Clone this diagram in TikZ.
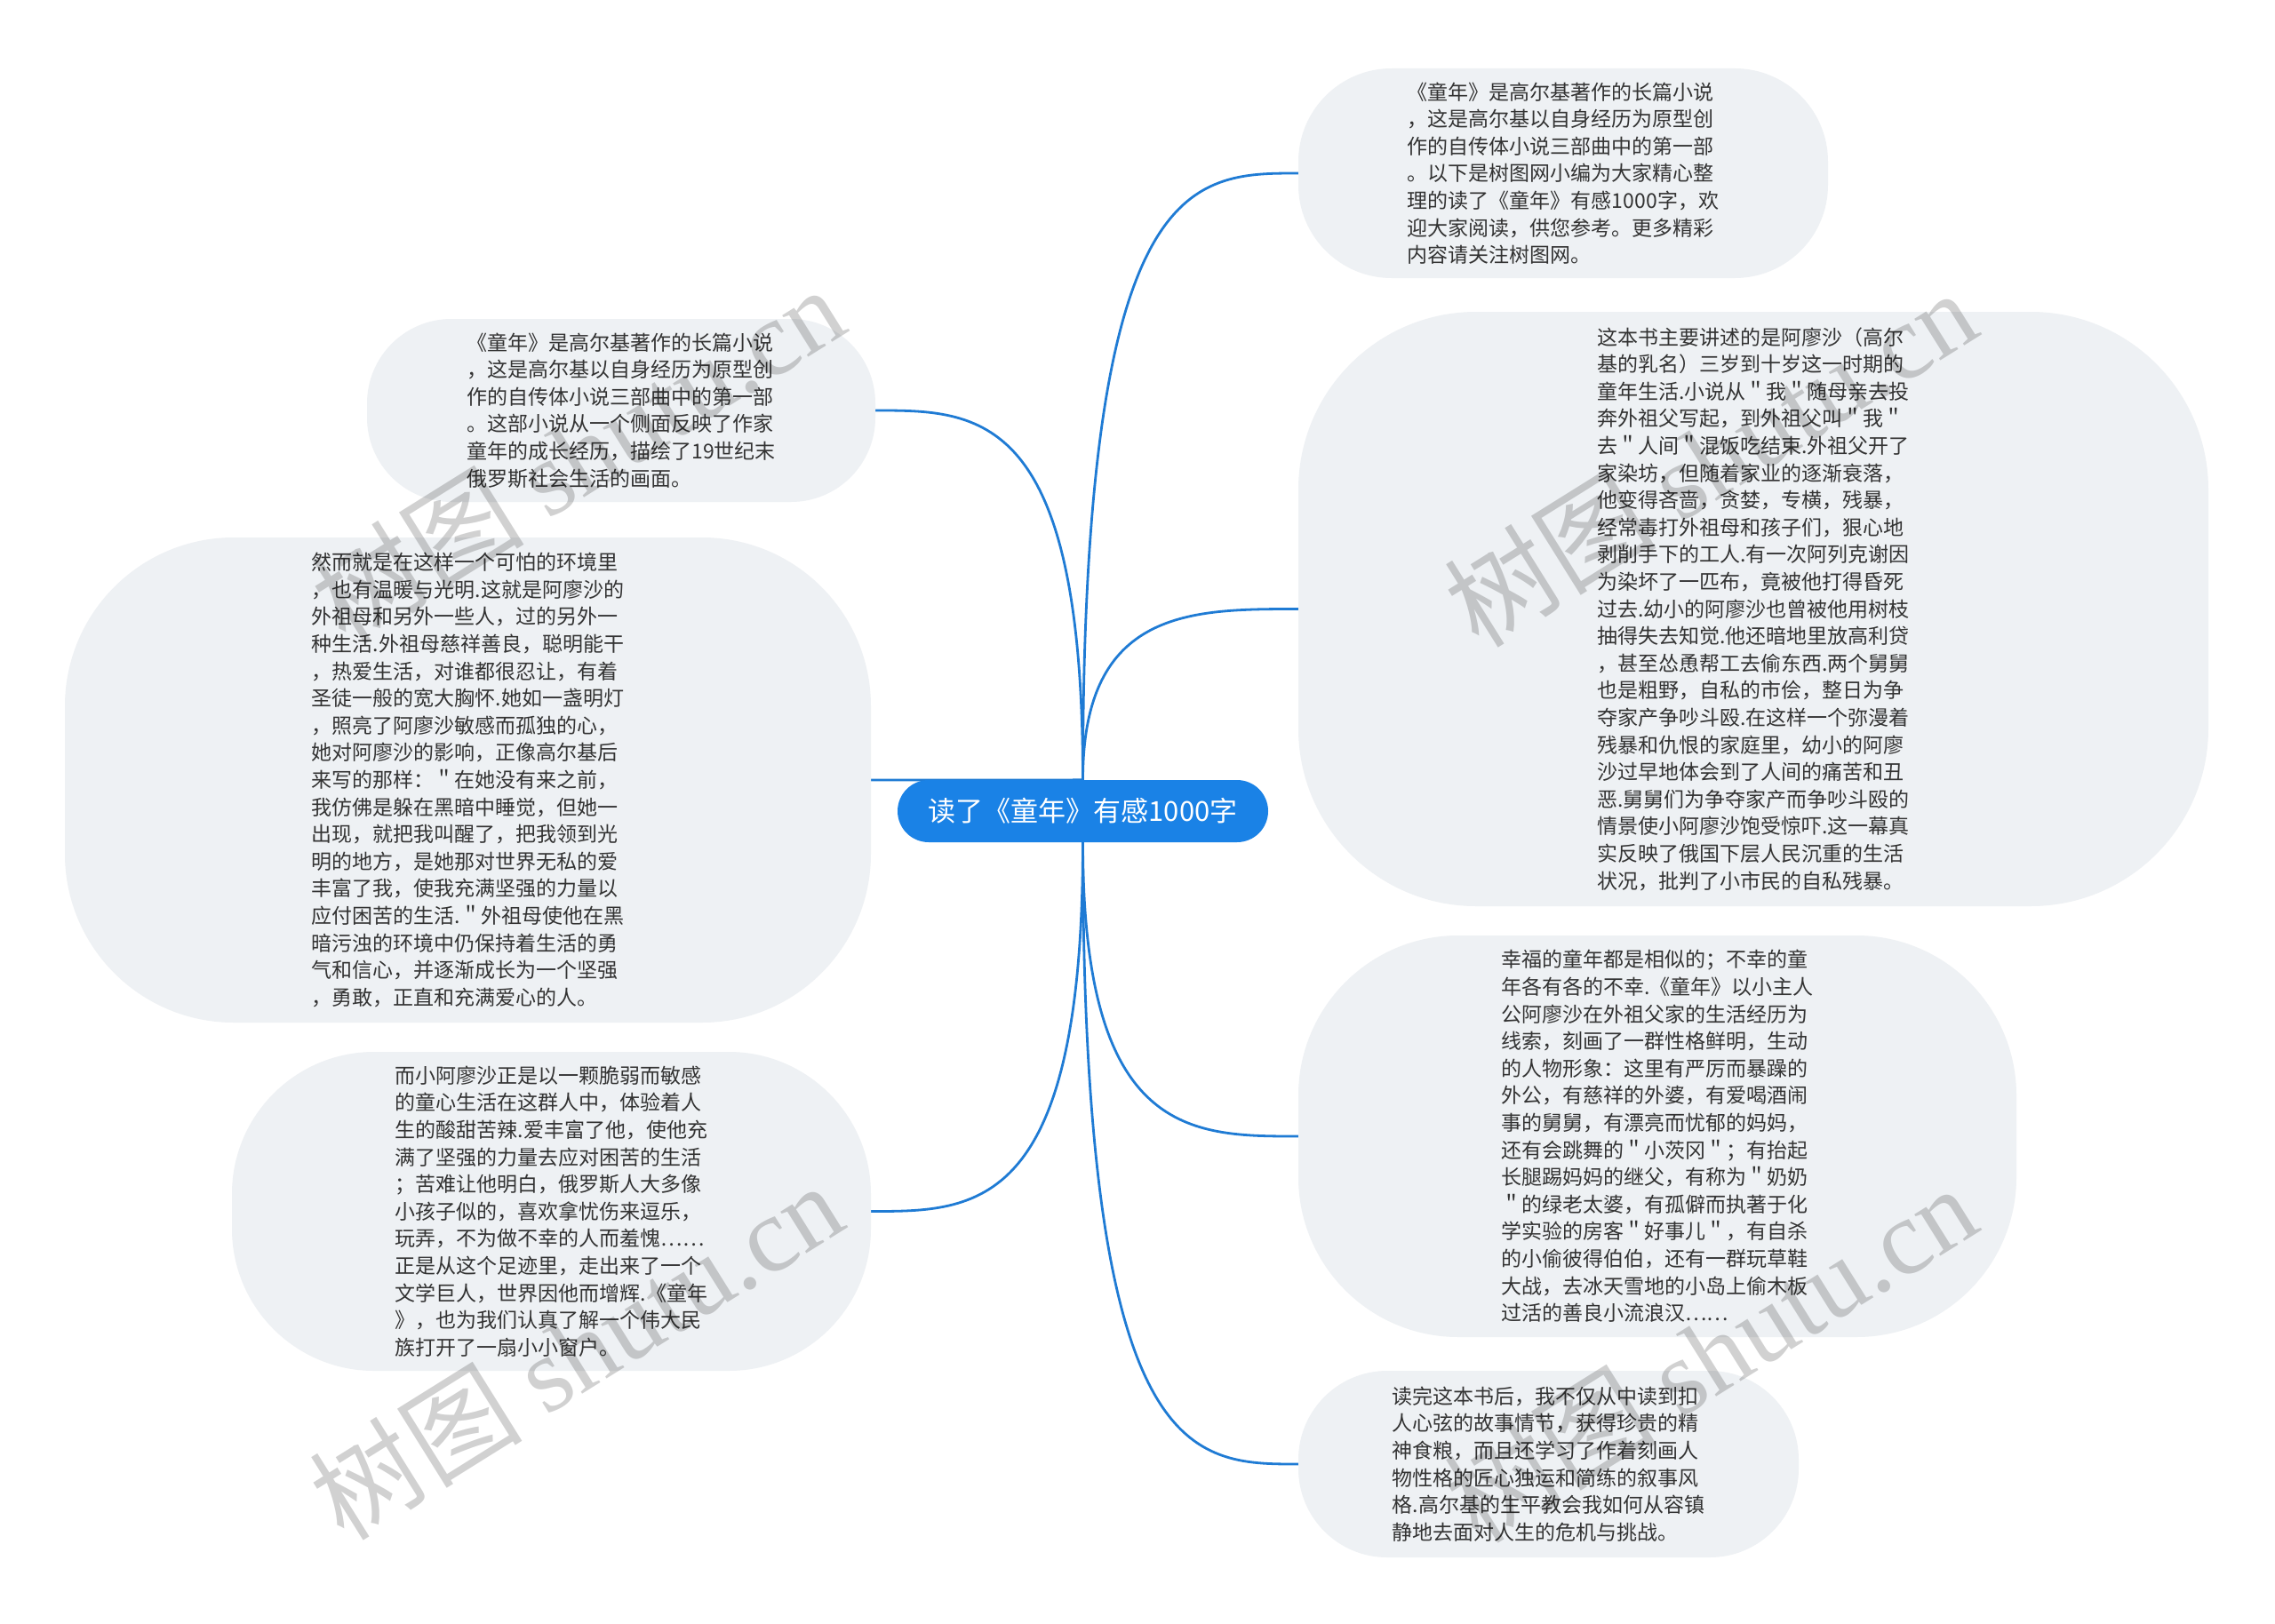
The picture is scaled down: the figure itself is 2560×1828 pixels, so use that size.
\documentclass[tikz,border=0pt]{standalone}
\usepackage{fontspec}
\setmainfont{Noto Sans CJK SC}
\newfontfamily\wmlatin{Liberation Serif}
\usetikzlibrary{calc}
\definecolor{bubblefill}{HTML}{EEF1F4}
\definecolor{textcol}{HTML}{333333}
\definecolor{mainblue}{HTML}{1A82E6}
\definecolor{lineblue}{HTML}{1F7BD4}
\pgfdeclarelayer{paper}
\pgfdeclarelayer{links}
\pgfsetlayers{paper,links,main}
\begin{document}
\begin{tikzpicture}[x=1pt,y=-1pt,
  bubble/.style={fill=bubblefill, draw=none, inner sep=0pt, align=left, text=textcol, font=\fontsize{23pt}{30.6pt}\selectfont},
  topic/.style={fill=mainblue, draw=none, text=white, inner sep=0pt, minimum width=417pt, minimum height=70pt, rounded corners=35pt, font=\fontsize{31pt}{36pt}\selectfont},
  conn/.style={draw=lineblue, line width=2.8pt, to path={.. controls (\tikztostart |- \tikztotarget) and ($(\tikztostart |- \tikztotarget)!0.5!(\tikztotarget)$) .. (\tikztotarget)}},
  wm/.style={text=black, opacity=0.18, font=\fontsize{120pt}{120pt}\selectfont, inner sep=0pt, rotate=32}
]
\begin{pgfonlayer}{paper}
\path[fill=white,use as bounding box] (0,0) rectangle (2560,1828);
\end{pgfonlayer}

\node[topic] (c) at (1218.5,913) {读了《童年》有感1000字};

\node[bubble, minimum width=596pt, minimum height=236pt, rounded corners=105pt] (tr) at (1759,195) {《童年》是高尔基著作的长篇小说\\，这是高尔基以自身经历为原型创\\作的自传体小说三部曲中的第一部\\。以下是树图网小编为大家精心整\\理的读了《童年》有感1000字，欢\\迎大家阅读，供您参考。更多精彩\\内容请关注树图网。};

\node[bubble, minimum width=1024pt, minimum height=669pt, rounded corners=200pt] (rl) at (1973,685.5) {这本书主要讲述的是阿廖沙（高尔\\基的乳名）三岁到十岁这一时期的\\童年生活.小说从＂我＂随母亲去投\\奔外祖父写起，到外祖父叫＂我＂\\去＂人间＂混饭吃结束.外祖父开了\\家染坊，但随着家业的逐渐衰落，\\他变得吝啬，贪婪，专横，残暴，\\经常毒打外祖母和孩子们，狠心地\\剥削手下的工人.有一次阿列克谢因\\为染坏了一匹布，竟被他打得昏死\\过去.幼小的阿廖沙也曾被他用树枝\\抽得失去知觉.他还暗地里放高利贷\\，甚至怂恿帮工去偷东西.两个舅舅\\也是粗野，自私的市侩，整日为争\\夺家产争吵斗殴.在这样一个弥漫着\\残暴和仇恨的家庭里，幼小的阿廖\\沙过早地体会到了人间的痛苦和丑\\恶.舅舅们为争夺家产而争吵斗殴的\\情景使小阿廖沙饱受惊吓.这一幕真\\实反映了俄国下层人民沉重的生活\\状况，批判了小市民的自私残暴。};

\node[bubble, minimum width=808pt, minimum height=452pt, rounded corners=180pt] (rm) at (1865,1279) {幸福的童年都是相似的；不幸的童\\年各有各的不幸.《童年》以小主人\\公阿廖沙在外祖父家的生活经历为\\线索，刻画了一群性格鲜明，生动\\的人物形象：这里有严厉而暴躁的\\外公，有慈祥的外婆，有爱喝酒闹\\事的舅舅，有漂亮而忧郁的妈妈，\\还有会跳舞的＂小茨冈＂；有抬起\\长腿踢妈妈的继父，有称为＂奶奶\\＂的绿老太婆，有孤僻而执著于化\\学实验的房客＂好事儿＂，有自杀\\的小偷彼得伯伯，还有一群玩草鞋\\大战，去冰天雪地的小岛上偷木板\\过活的善良小流浪汉……};

\node[bubble, minimum width=563pt, minimum height=210pt, rounded corners=100pt] (rb) at (1742.5,1648) {读完这本书后，我不仅从中读到扣\\人心弦的故事情节，获得珍贵的精\\神食粮，而且还学习了作着刻画人\\物性格的匠心独运和简练的叙事风\\格.高尔基的生平教会我如何从容镇\\静地去面对人生的危机与挑战。};

\node[bubble, minimum width=572pt, minimum height=206pt, rounded corners=95pt] (lt) at (699,462) {《童年》是高尔基著作的长篇小说\\，这是高尔基以自身经历为原型创\\作的自传体小说三部曲中的第一部\\。这部小说从一个侧面反映了作家\\童年的成长经历，描绘了19世纪末\\俄罗斯社会生活的画面。};

\node[bubble, minimum width=907pt, minimum height=546pt, rounded corners=190pt] (ll) at (526.5,878) {然而就是在这样一个可怕的环境里\\，也有温暖与光明.这就是阿廖沙的\\外祖母和另外一些人，过的另外一\\种生活.外祖母慈祥善良，聪明能干\\，热爱生活，对谁都很忍让，有着\\圣徒一般的宽大胸怀.她如一盏明灯\\，照亮了阿廖沙敏感而孤独的心，\\她对阿廖沙的影响，正像高尔基后\\来写的那样：＂在她没有来之前，\\我仿佛是躲在黑暗中睡觉，但她一\\出现，就把我叫醒了，把我领到光\\明的地方，是她那对世界无私的爱\\丰富了我，使我充满坚强的力量以\\应付困苦的生活.＂外祖母使他在黑\\暗污浊的环境中仍保持着生活的勇\\气和信心，并逐渐成长为一个坚强\\，勇敢，正直和充满爱心的人。};

\node[bubble, minimum width=719pt, minimum height=359pt, rounded corners=160pt] (lb) at (620.5,1363.5) {而小阿廖沙正是以一颗脆弱而敏感\\的童心生活在这群人中，体验着人\\生的酸甜苦辣.爱丰富了他，使他充\\满了坚强的力量去应对困苦的生活\\；苦难让他明白，俄罗斯人大多像\\小孩子似的，喜欢拿忧伤来逗乐，\\玩弄，不为做不幸的人而羞愧……\\正是从这个足迹里，走出来了一个\\文学巨人，世界因他而增辉.《童年\\》，也为我们认真了解一个伟大民\\族打开了一扇小小窗户。};

\begin{pgfonlayer}{links}
\draw[conn] (c.north) to (tr.west);
\draw[conn] (c.north) to (rl.west);
\draw[conn] (c.north) to (lt.east);
\draw[conn] (c.north) to (ll.east);
\draw[conn] (c.south) to (rm.west);
\draw[conn] (c.south) to (rb.west);
\draw[conn] (c.south) to (lb.east);
\end{pgfonlayer}

\node[wm] (wm1) at (650,511) {树图 {\wmlatin shutu.cn}};
\node[wm] (wm2) at (1924,515) {树图 {\wmlatin shutu.cn}};
\node[wm] (wm3) at (648,1520) {树图 {\wmlatin shutu.cn}};
\node[wm] (wm4) at (1924,1523) {树图 {\wmlatin shutu.cn}};
\end{tikzpicture}
\end{document}
